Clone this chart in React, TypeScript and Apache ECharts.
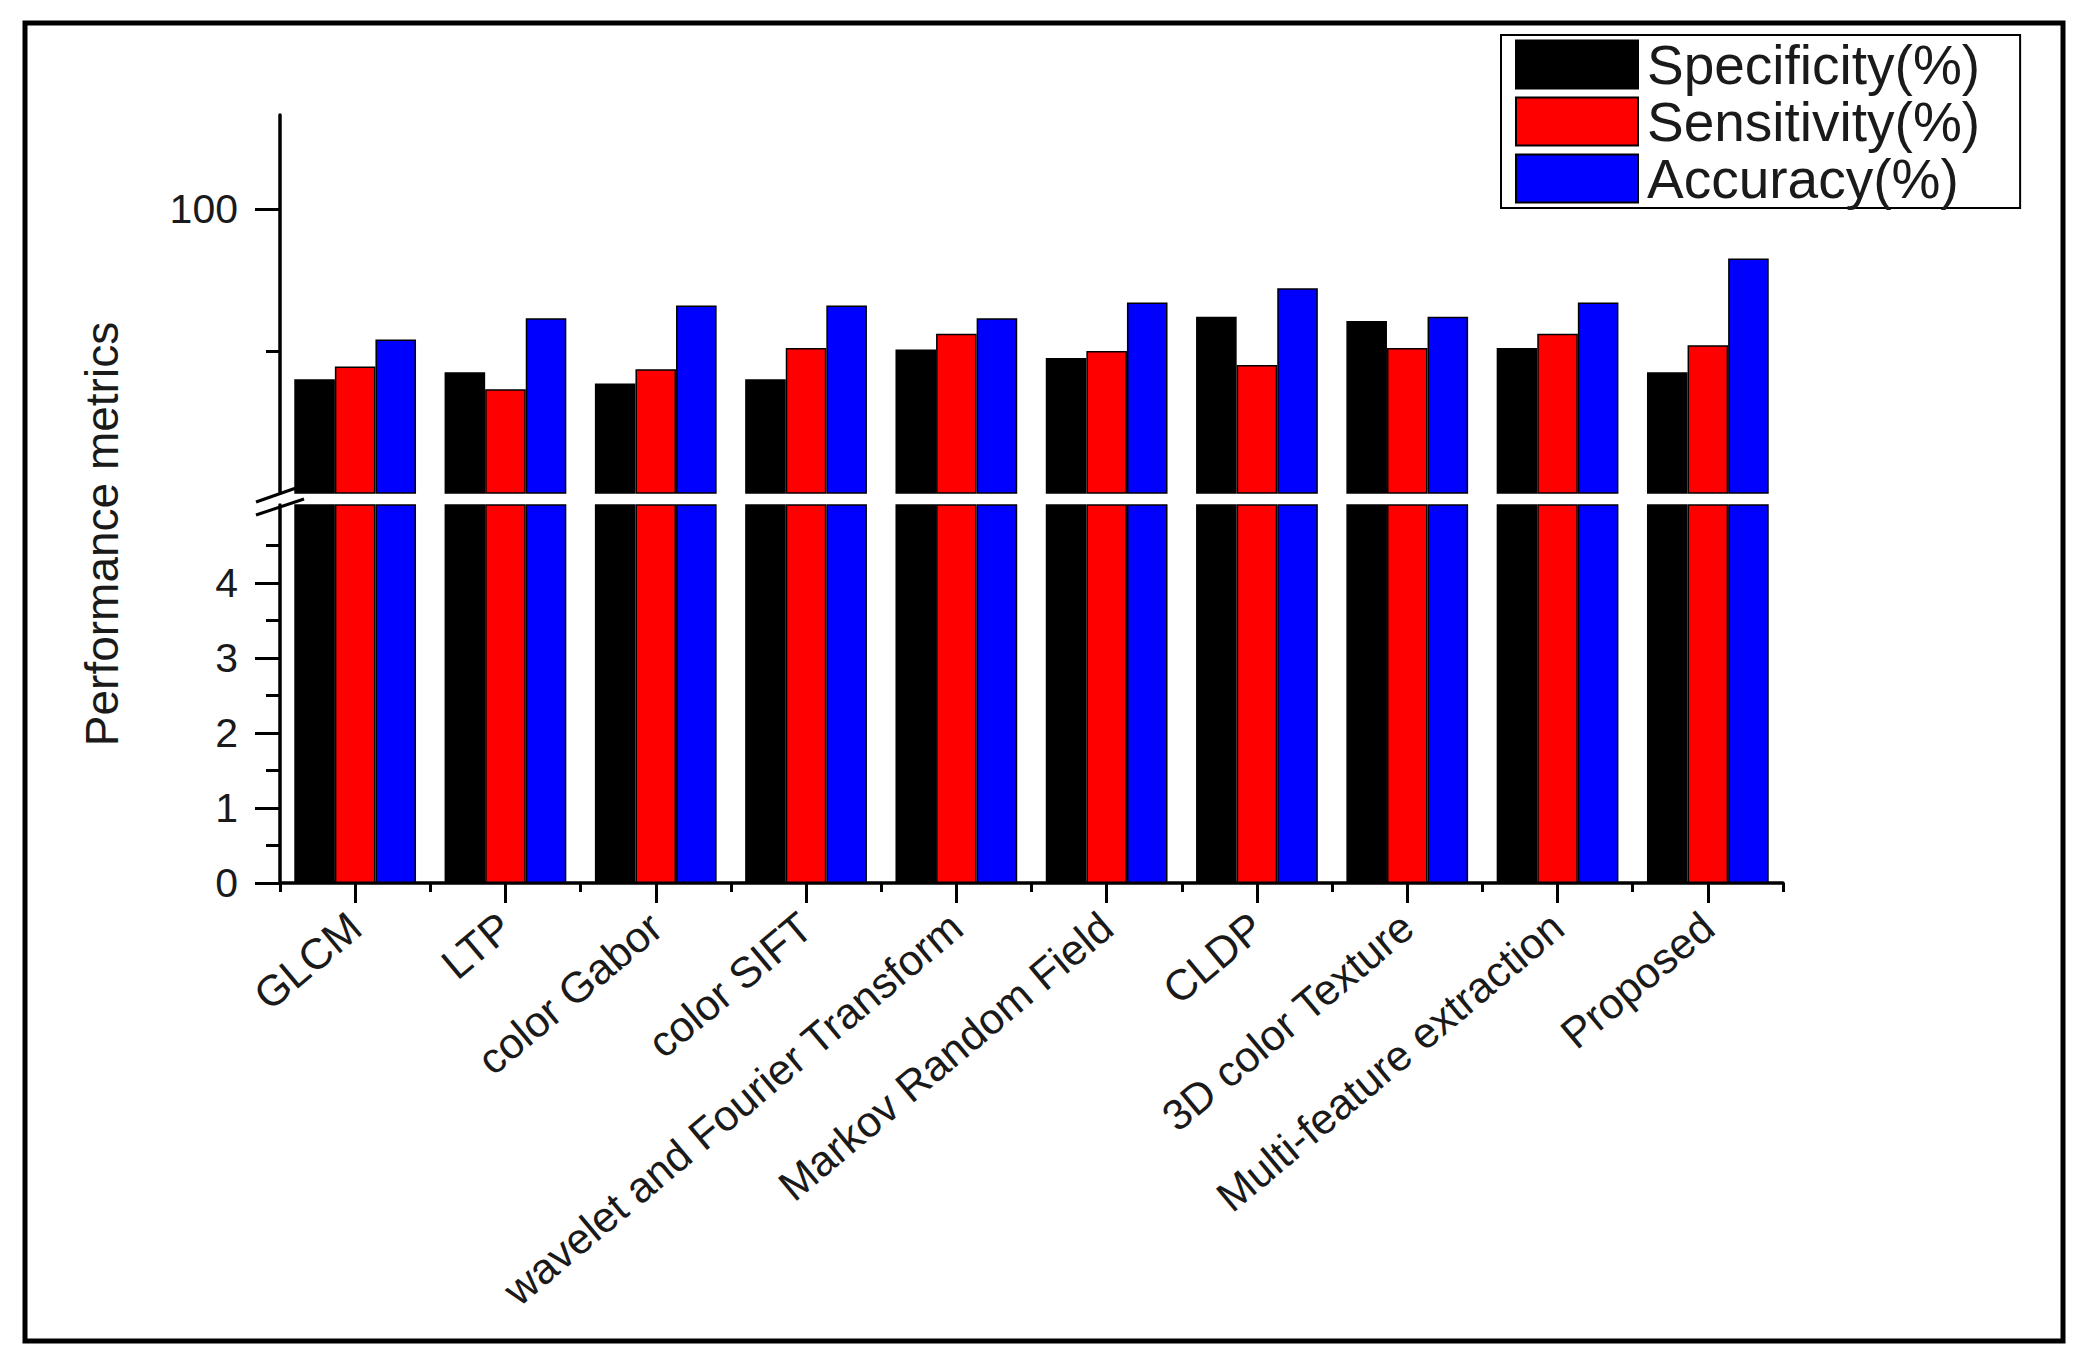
import React, { useEffect, useRef } from "react";
import * as echarts from "echarts";

const categories = [
  "GLCM",
  "LTP",
  "color Gabor",
  "color SIFT",
  "wavelet and Fourier Transform",
  "Markov Random Field",
  "CLDP",
  "3D color Texture",
  "Multi-feature extraction",
  "Proposed",
];
const seriesNames = ["Specificity(%)", "Sensitivity(%)", "Accuracy(%)"];
const specificity = [88.0, 88.5, 87.7, 88.0, 90.1, 89.5, 92.4, 92.1, 90.2, 88.5];
const sensitivity = [88.9, 87.3, 88.7, 90.2, 91.2, 90.0, 89.0, 90.2, 91.2, 90.4];
const accuracy = [90.8, 92.3, 93.2, 93.2, 92.3, 93.4, 94.4, 92.4, 93.4, 96.5];
const colors = ["#000000", "#ff0000", "#0000ff"];
const upperTicks = [100];
const upperMinorTicks = [90];
const lowerTicks = [0, 1, 2, 3, 4];
const lowerMinorTicks = [0.5, 1.5, 2.5, 3.5, 4.5];

const FONT = "'Liberation Sans', Arial, sans-serif";
const INK = "#1a1a1a";

export default function App() {
  const ref = useRef<HTMLDivElement>(null);
  useEffect(() => {
    document.body.style.margin = "0";
    const chart = echarts.init(ref.current!, undefined, { renderer: "svg" });
    const values = [specificity, sensitivity, accuracy];
    const axisLine = { show: true, lineStyle: { color: "#000", width: 3.5 } };
    const gridL = 280;
    const gridR = 2082 - 1783;
    const grids = [
      { left: gridL, right: gridR, top: 115, height: 378 },
      { left: gridL, right: gridR, top: 505, height: 378 },
    ];
    const series: any[] = [];
    [0, 1].forEach((g) => {
      values.forEach((v, i) => {
        series.push({
          type: "bar",
          name: seriesNames[i],
          xAxisIndex: g === 0 ? 0 : 1,
          yAxisIndex: g === 0 ? 0 : 2,
          data: v,
          clip: true,
          barGap: "0%",
          barCategoryGap: "19%",
          itemStyle: { color: colors[i], borderColor: "#000", borderWidth: 1.5 },
        });
      });
    });
    chart.setOption({
      animation: false,
      backgroundColor: "#ffffff",
      grid: grids,
      legend: {
        orient: "vertical",
        left: 1501,
        top: 35,
        itemWidth: 122,
        itemHeight: 48,
        itemGap: 2,
        borderColor: "#000",
        borderWidth: 2,
        padding: [2, 40, 2, 14],
        icon: "rect",
        data: seriesNames,
        textStyle: {
          fontSize: 55,
          lineHeight: 48,
          fontFamily: FONT,
          color: INK,
          padding: [0, 0, 0, 4],
        },
      },
      xAxis: [
        {
          type: "category",
          gridIndex: 0,
          data: categories,
          show: false,
        },
        {
          type: "category",
          gridIndex: 1,
          data: categories,
          position: "bottom",
          axisLine,
          axisTick: { show: true, alignWithLabel: true, length: 20, lineStyle: { color: "#000", width: 3 } },
          axisLabel: {
            interval: 0,
            rotate: 40,
            margin: 38,
            fontSize: 43,
            fontFamily: FONT,
            color: INK,
          },
        },
        {
          type: "category",
          gridIndex: 1,
          data: categories,
          position: "bottom",
          axisLine: { show: false },
          axisTick: { show: true, alignWithLabel: false, interval: 0, length: 9, lineStyle: { color: "#000", width: 3 } },
          axisLabel: { show: false },
        },
      ],
      yAxis: [
        {
          type: "value",
          gridIndex: 0,
          position: "left",
          min: 80,
          max: 106.6,
          interval: 10,
          splitLine: { show: false },
          axisLine,
          axisTick: { show: true, customValues: upperTicks, length: 25, lineStyle: { color: "#000", width: 3 } },
          axisLabel: { customValues: upperTicks, margin: 42, fontSize: 41, fontFamily: FONT, color: INK },
        },
        {
          type: "value",
          gridIndex: 0,
          position: "left",
          min: 80,
          max: 106.6,
          interval: 10,
          splitLine: { show: false },
          axisLine: { show: false },
          axisTick: { show: true, customValues: upperMinorTicks, length: 14, lineStyle: { color: "#000", width: 3 } },
          axisLabel: { show: false },
        },
        {
          type: "value",
          gridIndex: 1,
          position: "left",
          min: 0,
          max: 5.04,
          interval: 1,
          splitLine: { show: false },
          axisLine,
          axisTick: { show: true, customValues: lowerTicks, length: 25, lineStyle: { color: "#000", width: 3 } },
          axisLabel: { customValues: lowerTicks, margin: 42, fontSize: 41, fontFamily: FONT, color: INK },
        },
        {
          type: "value",
          gridIndex: 1,
          position: "left",
          min: 0,
          max: 5.04,
          interval: 1,
          splitLine: { show: false },
          axisLine: { show: false },
          axisTick: { show: true, customValues: lowerMinorTicks, length: 14, lineStyle: { color: "#000", width: 3 } },
          axisLabel: { show: false },
        },
      ],
      series,
      graphic: [
        {
          type: "rect",
          shape: { x: 25, y: 23, width: 2038, height: 1318 },
          style: { fill: "none", stroke: "#000", lineWidth: 5 },
          z: 100,
        },
        {
          type: "line",
          shape: { x1: 256, y1: 502, x2: 296, y2: 488 },
          style: { stroke: "#000", lineWidth: 3 },
          z: 100,
        },
        {
          type: "line",
          shape: { x1: 256, y1: 515, x2: 304, y2: 499 },
          style: { stroke: "#000", lineWidth: 3 },
          z: 100,
        },
        {
          type: "text",
          x: 102,
          y: 534,
          rotation: Math.PI / 2,
          style: {
            text: "Performance metrics",
            fontSize: 46,
            fontFamily: FONT,
            fill: INK,
            align: "center",
            verticalAlign: "middle",
          },
          z: 100,
        },
      ],
    });
    return () => chart.dispose();
  }, []);
  return <div ref={ref} style={{ width: 2082, height: 1365 }} />;
}
